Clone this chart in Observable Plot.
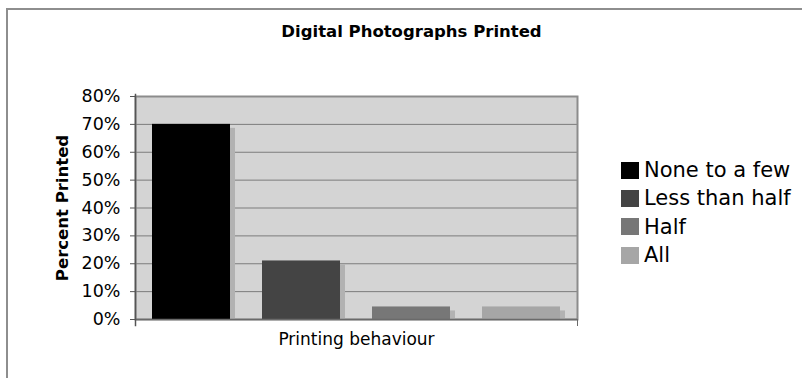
<!DOCTYPE html>
<html>
<head>
<meta charset="utf-8">
<script src="https://cdn.jsdelivr.net/npm/d3@7"></script>
<script src="https://cdn.jsdelivr.net/npm/@observablehq/plot@0.6"></script>
<style>
  html, body { margin: 0; padding: 0; background: #fff; }
  #wrap { position: relative; width: 802px; height: 378px; overflow: hidden; font-family: "DejaVu Sans", Verdana, sans-serif; }
  #border { position: absolute; left: 6px; top: 8px; width: 900px; height: 500px; border-top: 2px solid #8e8e8e; border-left: 2px solid #8e8e8e; }
  #chart { position: absolute; left: 0; top: 0; }
  #legend { position: absolute; left: 621px; top: 156px; }
  .row { display: flex; align-items: center; height: 28.3px; font-size: 21px; color: #000; white-space: nowrap; }
  .sw { width: 18px; height: 17px; margin-right: 5px; flex: none; }
</style>
</head>
<body>
<div id="wrap"><div id="border"></div><div id="chart"></div><div id="legend"></div></div>
<script>
const title = "Digital Photographs Printed";
const yLabel = "Percent Printed";
const xLabel = "Printing behaviour";
const series = ["None to a few", "Less than half", "Half", "All"];
const percents = [70, 21, 4.5, 4.5];
const colors = ["#000000", "#444444", "#777777", "#a6a6a6"];
const yTicks = [0, 10, 20, 30, 40, 50, 60, 70, 80];
const gridTicks = [10, 20, 30, 40, 50, 60, 70];

const data = series.map((s, i) => ({series: s, value: percents[i]}));

const chart = Plot.plot({
  width: 802,
  height: 378,
  marginLeft: 135,
  marginRight: 225,
  marginTop: 96,
  marginBottom: 59,
  style: {background: "transparent", fontFamily: "DejaVu Sans, Verdana, sans-serif", color: "#000"},
  x: {domain: series, paddingInner: 0.29, paddingOuter: 0.136, axis: null},
  y: {domain: [0, 80], axis: null},
  color: {domain: series, range: colors},
  marks: [
    Plot.frame({fill: "#d4d4d4"}),
    Plot.ruleY(gridTicks, {stroke: "#7c7c7c", strokeWidth: 1}),
    Plot.frame({stroke: "#8c8c8c", strokeWidth: 2}),
    Plot.barY(data, {x: "series", y: "value", fill: "#b2b2b2", dx: 5, insetTop: 4}),
    Plot.barY(data, {x: "series", y: "value", fill: "series"}),
    Plot.ruleY([0], {stroke: "#6a6a6a", strokeWidth: 1.5}),
    Plot.frame({anchor: "left", stroke: "#555", strokeWidth: 1.5, insetTop: -2, insetBottom: -6}),
    Plot.frame({anchor: "right", stroke: "#6a6a6a", strokeWidth: 1, insetTop: 223, insetBottom: -6}),
    Plot.axisY({ticks: yTicks, tickFormat: d => d + "%", tickSize: 5, tickPadding: 10, fontSize: 17.5, label: null, stroke: "#555"}),
    Plot.text([yLabel], {frameAnchor: "left", textAnchor: "middle", dx: -73, rotate: -90, fontWeight: "bold", fontSize: 16.5, fill: "#000"}),
    Plot.text([xLabel], {frameAnchor: "bottom", dy: 25, fontSize: 17, fill: "#000"}),
    Plot.text([title], {frameAnchor: "top", dx: 55, dy: -65, lineAnchor: "middle", fontWeight: "bold", fontSize: 16.5, fill: "#000"})
  ]
});
document.getElementById("chart").appendChild(chart);

const legend = document.getElementById("legend");
series.forEach((s, i) => {
  const row = document.createElement("div");
  row.className = "row";
  const sw = document.createElement("span");
  sw.className = "sw";
  sw.style.background = colors[i];
  const lab = document.createElement("span");
  lab.textContent = s;
  row.appendChild(sw);
  row.appendChild(lab);
  legend.appendChild(row);
});
</script>
</body>
</html>
